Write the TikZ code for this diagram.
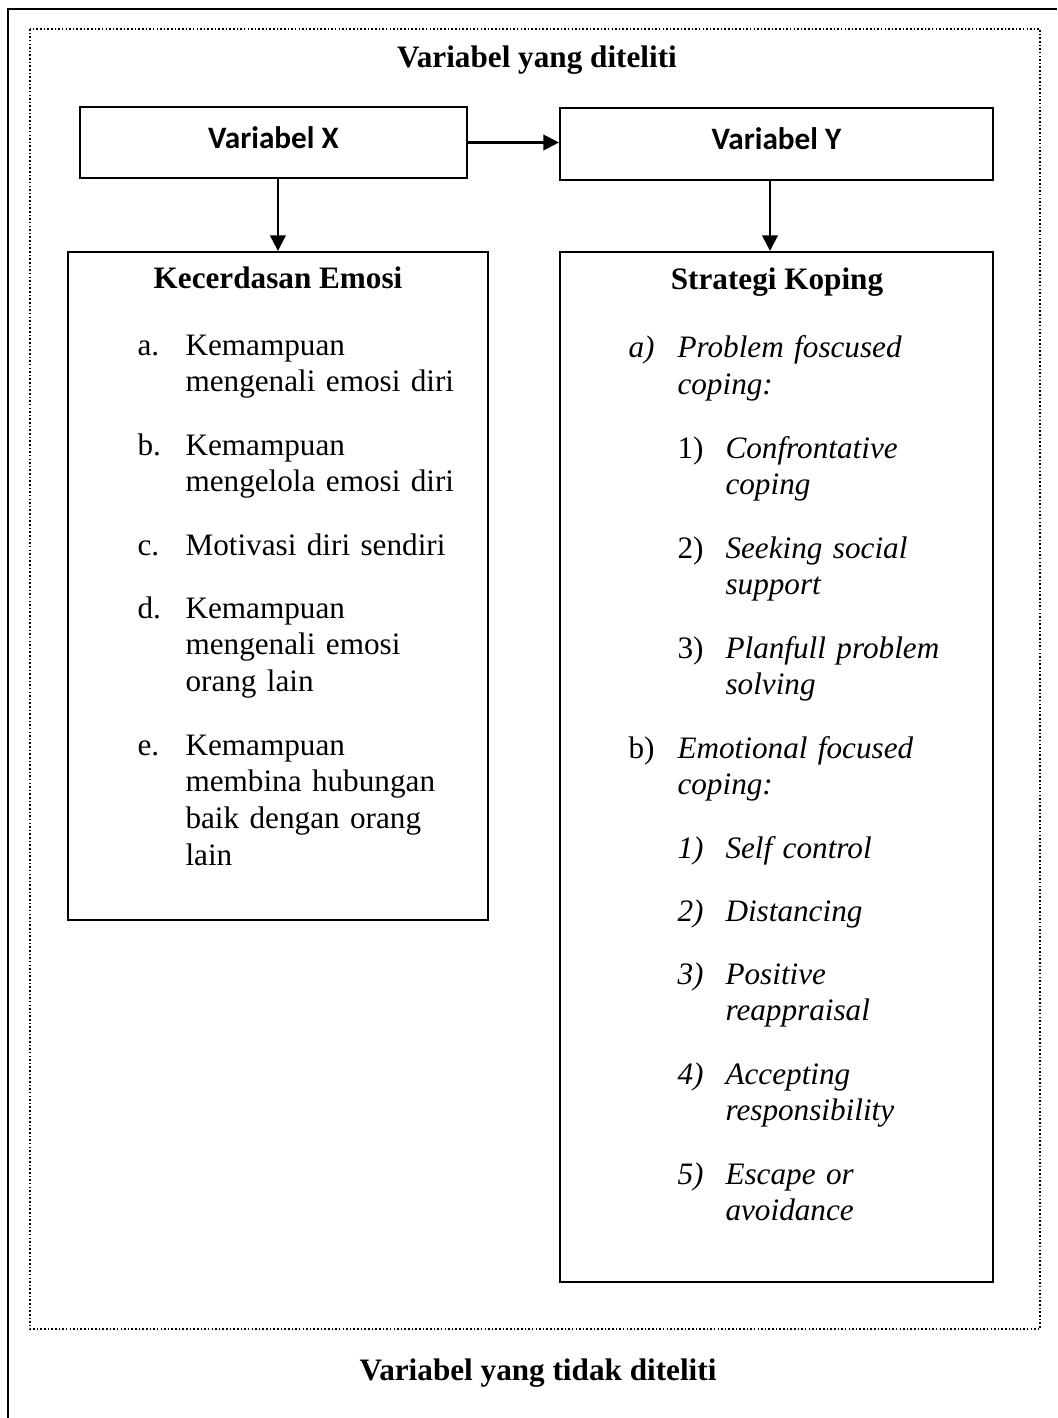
\documentclass[tikz,border=0pt]{standalone}
\usepackage{fontspec}
\setmainfont{Liberation Serif}
\newfontfamily\calibri{Carlito}
\usetikzlibrary{fit,arrows.meta}

\tikzset{
  box/.style={draw, line width=0.8pt, inner sep=0pt},
  ttl/.style={anchor=base, inner sep=0pt, font=\bfseries\fontsize{12}{14.2}\selectfont},
  vartxt/.style={inner sep=0pt, font=\calibri\bfseries\fontsize{12}{14.2}\selectfont},
  lbl/.style={anchor=base west, inner sep=0pt, font=\fontsize{12}{14.2}\selectfont},
  itm/.style={anchor=base west, inner sep=0pt, text width=110pt, align=left, font=\fontsize{12}{14.2}\selectfont},
  arr/.style={-{Triangle[length=6pt,width=6pt]}, line width=0.8pt}
}

\begin{document}
\begin{tikzpicture}[x=0.3846pt, y=-0.3846pt]

    % Fix the page size
    \useasboundingbox (0,0) rectangle (1057,1418);

    % Draw the outer frame (only left and top edges show)
    \draw[line width=1.1pt] (8,1418) -- (8,9) -- (1057,9);

    % Draw the dotted frame round the studied variables
    \draw[line width=0.6pt, dash pattern=on 0.6pt off 0.8pt] (30,29) rectangle (1040,1329);

    % Titles of the two areas
    \node[ttl] (tStudied) at (537,68) {Variabel yang diteliti};
    \node[ttl] (tNotStudied) at (538,1380) {Variabel yang tidak diteliti};

    % Draw the variable boxes
    \node[box, fit={(80,107) (467,178)}] (boxX) {};
    \node[box, fit={(560,108) (993,180)}] (boxY) {};
    \node[vartxt] (txtX) at ([yshift=2pt]boxX.center) {Variabel X};
    \node[vartxt] (txtY) at ([yshift=2pt]boxY.center) {Variabel Y};

    % Draw the two content boxes
    \node[box, fit={(68,252) (488,920)}] (boxKE) {};
    \node[box, fit={(560,252) (993,1282)}] (boxSK) {};

    % Draw the arrows between the boxes
    \draw[arr] (boxX.east) -- (boxX.east -| boxY.west);
    \draw[arr] ([xshift=1.7pt]boxX.south) -- ([xshift=1.7pt]boxX.south |- boxKE.north);
    \draw[arr] ([xshift=-2.5pt]boxY.south) -- ([xshift=-2.5pt]boxY.south |- boxSK.north);

    % Contents of Kecerdasan Emosi
    \node[ttl] (tKE) at (278,289) {Kecerdasan Emosi};
    \node[lbl] (la) at (137,355) {a.};
    \node[itm] (ia) at (185,355) {Kemampuan\\mengenali emosi diri};
    \node[lbl] (lb) at (137,455) {b.};
    \node[itm] (ib) at (185,455) {Kemampuan\\mengelola emosi diri};
    \node[lbl] (lc) at (137,555) {c.};
    \node[itm] (ic) at (185,555) {Motivasi diri sendiri};
    \node[lbl] (ld) at (137,618) {d.};
    \node[itm] (id) at (185,618) {Kemampuan\\mengenali emosi\\orang lain};
    \node[lbl] (le) at (137,755) {e.};
    \node[itm] (ie) at (185,755) {Kemampuan\\membina hubungan\\baik dengan orang\\lain};

    % Contents of Strategi Koping
    \node[ttl] (tSK) at (777,290) {Strategi Koping};
    \node[lbl] (lpa) at (628,358) {\itshape a)};
    \node[itm] (ipa) at (677,358) {\itshape Problem foscused\\coping:};
    \node[lbl] (lp1) at (677,458) {1)};
    \node[itm] (ip1) at (725,458) {\itshape Confrontative\\coping};
    \node[lbl] (lp2) at (677,558) {2)};
    \node[itm] (ip2) at (725,558) {\itshape Seeking social\\support};
    \node[lbl] (lp3) at (677,658) {3)};
    \node[itm] (ip3) at (725,658) {\itshape Planfull problem\\solving};
    \node[lbl] (leb) at (628,758) {b)};
    \node[itm] (ieb) at (677,758) {\itshape Emotional focused\\coping:};
    \node[lbl] (le1) at (677,858) {\itshape 1)};
    \node[itm] (ie1) at (725,858) {\itshape Self control};
    \node[lbl] (le2) at (677,921) {\itshape 2)};
    \node[itm] (ie2) at (725,921) {\itshape Distancing};
    \node[lbl] (le3) at (677,984) {\itshape 3)};
    \node[itm] (ie3) at (725,984) {\itshape Positive\\reappraisal};
    \node[lbl] (le4) at (677,1084) {\itshape 4)};
    \node[itm] (ie4) at (725,1084) {\itshape Accepting\\responsibility};
    \node[lbl] (le5) at (677,1184) {\itshape 5)};
    \node[itm] (ie5) at (725,1184) {\itshape Escape or\\avoidance};

\end{tikzpicture}
\end{document}
